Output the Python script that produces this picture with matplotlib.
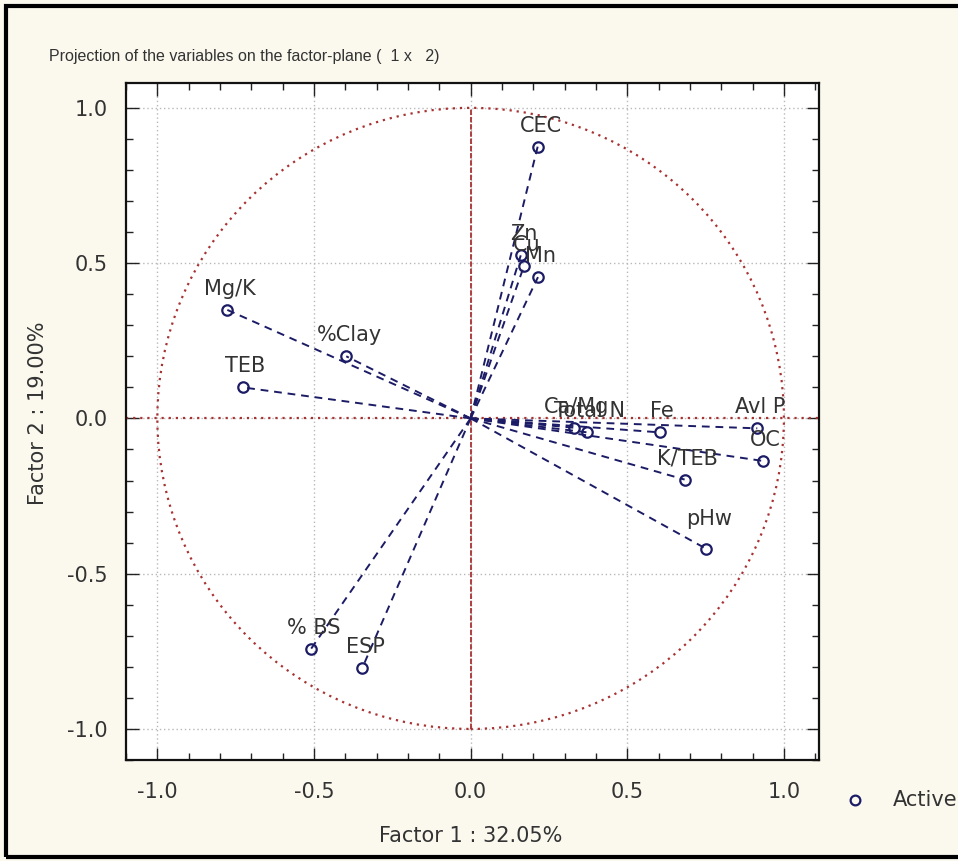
import matplotlib
matplotlib.use("Agg")
import matplotlib.pyplot as plt
import numpy as np
from matplotlib.patches import Circle, Rectangle
from matplotlib.ticker import MultipleLocator

# factor loadings (Factor 1, Factor 2)
variables = ["CEC", "Zn", "Cu", "Mn", "Mg/K", "%Clay", "TEB", "Ca/Mg", "Total N",
             "Fe", "Avl P", "OC", "K/TEB", "pHw", "% BS", "ESP"]
factor1 = [0.214, 0.160, 0.170, 0.215, -0.778, -0.397, -0.728, 0.330, 0.372,
           0.603, 0.915, 0.933, 0.683, 0.752, -0.510, -0.346]
factor2 = [0.875, 0.525, 0.490, 0.455, 0.350, 0.200, 0.100, -0.030, -0.045,
           -0.045, -0.032, -0.137, -0.197, -0.420, -0.743, -0.804]

title = "Projection of the variables on the factor-plane (  1 x   2)"
xlabel = "Factor 1 : 32.05%"
ylabel = "Factor 2 : 19.00%"
legend_label = "Active"

W, H = 958, 861
fig = plt.figure(figsize=(W / 100, H / 100), dpi=100, facecolor="#fbf8ee")
ax = fig.add_axes([126 / W, 1 - 760 / H, (819 - 126) / W, (760 - 83) / H])
ax.set_facecolor("white")

ink = "#1c1c66"
text_c = "#333333"
red = "#a83232"

# unit circle and the two axes through the origin
ax.add_patch(Circle((0, 0), 1.0, fill=False, edgecolor=red, linestyle=(0, (1, 2.2)), linewidth=1.6, zorder=2))
ax.axhline(0, color=red, linestyle=(0, (1, 2.2)), linewidth=1.6, zorder=2)
ax.plot([0, 0], [-1, 1], color=red, linestyle=(0, (3, 1)), linewidth=1.3, zorder=2)

for name, x, y in zip(variables, factor1, factor2):
    ax.plot([0, x], [0, y], color=ink, linestyle=(0, (4, 3)), linewidth=1.4, zorder=3)
    ax.plot(x, y, "o", markersize=7.5, markerfacecolor="none", markeredgecolor=ink, markeredgewidth=1.6, zorder=4)
    dy = 14 if name == "pHw" else 8
    ax.annotate(name, (x, y), xytext=(2, dy), textcoords="offset points", ha="center", va="bottom",
                fontsize=15, color=text_c, zorder=5)

ax.set_xlim(-1.1, 1.112)
ax.set_ylim(-1.1, 1.08)
ax.xaxis.set_major_locator(MultipleLocator(0.5))
ax.yaxis.set_major_locator(MultipleLocator(0.5))
ax.xaxis.set_minor_locator(MultipleLocator(0.1))
ax.yaxis.set_minor_locator(MultipleLocator(0.1))
ax.tick_params(which="both", direction="in", top=True, right=True, colors="#222222")
ax.tick_params(which="major", length=9, width=1.0, labelsize=15, labelcolor=text_c)
ax.tick_params(which="minor", length=5, width=1.0)
ax.tick_params(axis="x", which="major", pad=16)
ax.tick_params(axis="y", which="major", pad=13)
ax.xaxis.set_major_formatter(plt.FuncFormatter(lambda v, p: f"{v:.1f}"))
ax.yaxis.set_major_formatter(plt.FuncFormatter(lambda v, p: f"{v:.1f}"))
ax.grid(True, which="major", color="#b8b8b8", linestyle=(0, (1, 2)), linewidth=1.0)
ax.set_axisbelow(True)
for s in ax.spines.values():
    s.set_linewidth(1.6)
    s.set_color("#111111")

fig.text(49 / W, 1 - 57 / H, title, ha="left", va="center", fontsize=11.5,
         family="Liberation Sans", color=text_c)
fig.text(471 / W, 1 - 836 / H, xlabel, ha="center", va="center", fontsize=15, color=text_c)
fig.text(38 / W, 1 - 413 / H, ylabel, ha="center", va="center", rotation=90, fontsize=15, color=text_c)

# legend outside the plot, cut off at the right edge like the original
fig.lines.append(plt.Line2D([855 / W], [1 - 800 / H], marker="o", markersize=7, markerfacecolor="none",
                            markeredgecolor=ink, markeredgewidth=1.6, transform=fig.transFigure))
fig.text(893 / W, 1 - 800 / H, legend_label, ha="left", va="center", fontsize=15, color=text_c)

# outer frame of the exported picture
fig.patches.append(Rectangle((6 / W, 1 - 857 / H), 1.0, (857 - 6) / H, fill=False, edgecolor="black",
                             linewidth=3, transform=fig.transFigure))

fig.savefig("out.png", dpi=100, facecolor=fig.get_facecolor())
